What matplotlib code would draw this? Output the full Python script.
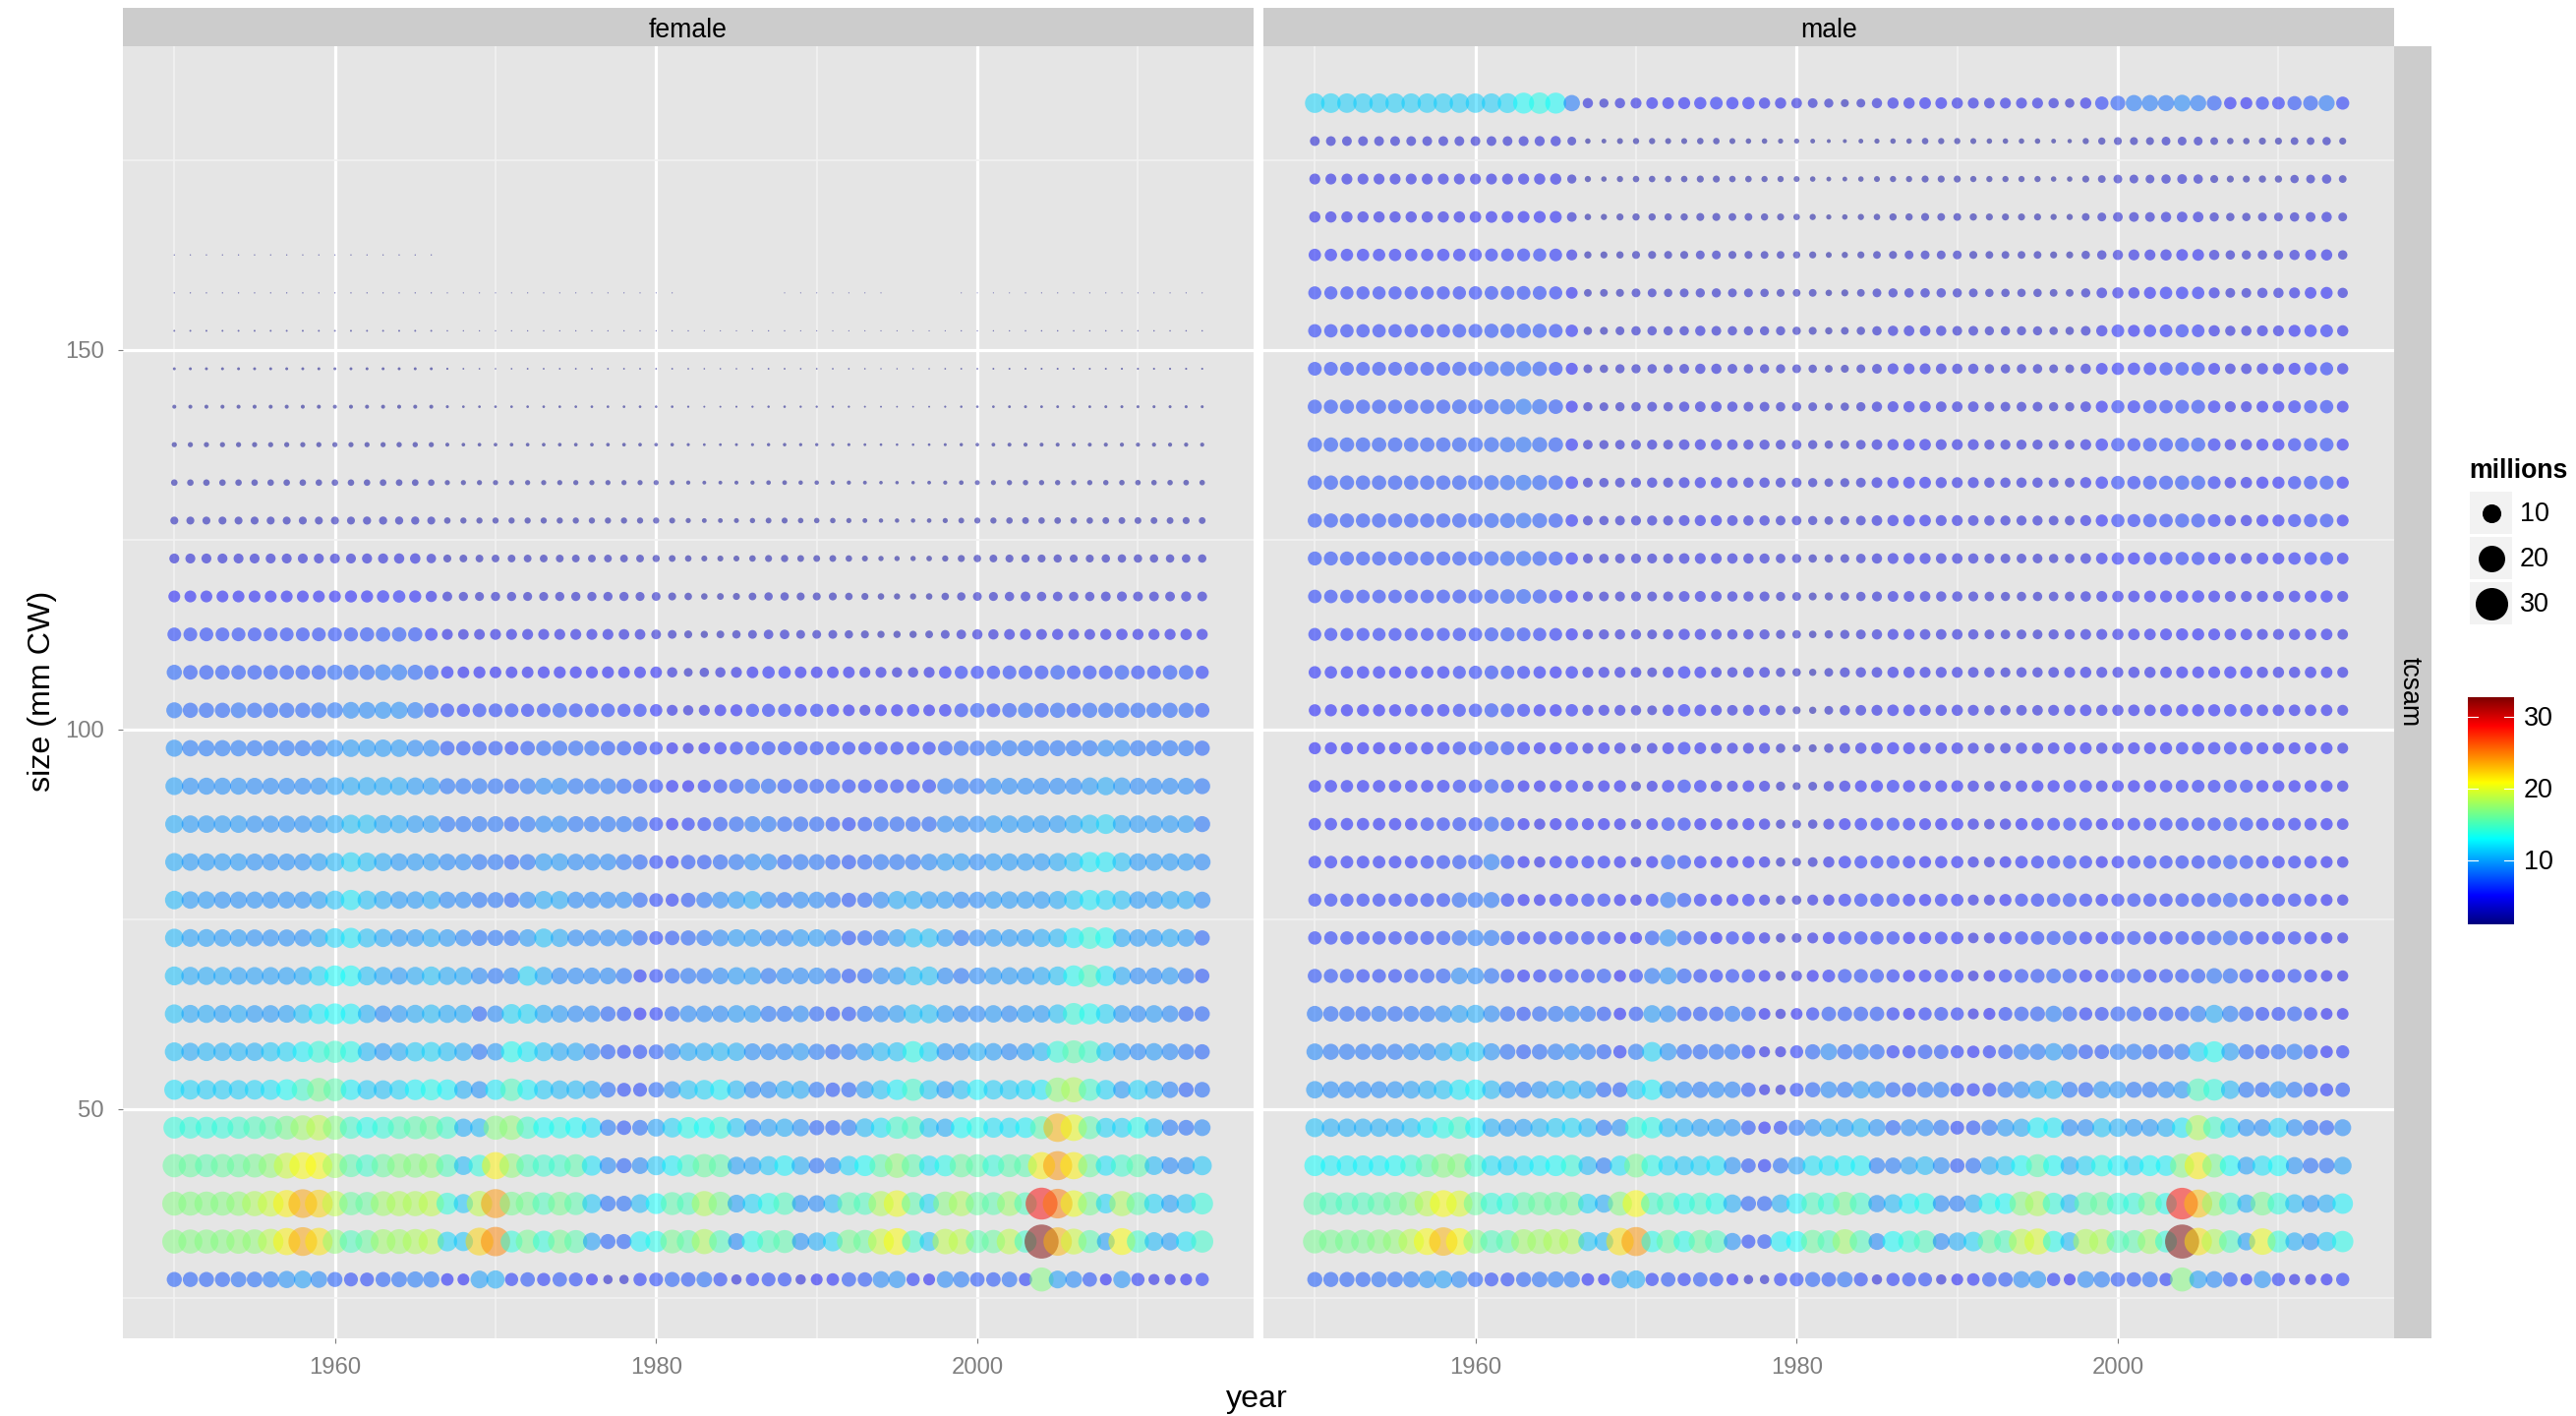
import numpy as np
import matplotlib
matplotlib.use("Agg")
import matplotlib.pyplot as plt
from matplotlib.colors import LinearSegmentedColormap, Normalize
from matplotlib.patches import Rectangle

nan = float("nan")
years = list(range(1950, 2015))
x_major = [1960, 1980, 2000]
x_minor = [1950, 1970, 1990, 2010]
y_major = [50, 100, 150]
y_minor = [25, 75, 125, 175]
legend_sizes = [10, 20, 30]
colorbar_ticks = [10, 20, 30]
jet_colors = ["#00007F", "#0000FF", "#007FFF", "#00FFFF", "#7FFF7F", "#FFFF00", "#FF7F00", "#FF0000", "#7F0000"]

female = {
27.5: [6.5,6.5,6.5,6.5,7,7,7.5,8.5,9,8,6.5,5.5,5.5,6.5,7,7.5,7.5,4.5,4,9,9.5,5,6,5,6,5.5,4,2.5,2.5,5,5.5,6.5,6,
       7,5.5,3,5,5.5,5.5,3,4,4.5,6,6,8,8.5,5,4,8,7.5,6,6,7,5,16.5,9,8,6,4,8.5,5,3.5,3.5,4,5],
32.5: [16.5,16.5,16.5,16.5,17,17,18.5,21,23.5,21.5,17,14.5,15.5,17.5,17.5,18,18.5,11,10.5,22,24.5,13.5,16,13.5,16,15,9,6.5,6.5,12,13,16,15,
       18,14.5,8,13,14.5,15,8.5,9.5,11,16,15.5,19,20.5,14,10.5,18.5,18.5,15,15.5,18.5,14,33,23,19,15,9,20.5,14,10,9,11.5,14],
37.5: [16.5,16.5,16.5,16.5,17,18,19,21,23.5,22,18.5,15.5,15.5,17.5,18,18,18.5,13.5,10.5,18.5,24,16,16,14.5,16,15,10.5,7,7,10,12.5,15,14.5,
       18,16,9,11,13,14.5,8.5,8,10,15,14.5,18,20,15,11,16.5,18,15.5,15,17.5,14.5,29,25,20,16,11,18,15,11,9,10.5,13.5],
42.5: [15.5,15.5,15,15.5,15.5,16,17,19,20.5,20.5,17.5,15,14,15.5,16.5,16.5,17,14.5,10,13.5,21,17,14.5,14,14,15,11.5,8,6.5,8,10.5,12,14,
       15.5,15,9,9,10.5,12,9.5,7,8,11,12.5,15,17,15,11.5,13,15.5,15,13.5,15,15,21,24,21,15.5,11.5,14,15,10,8,8.5,10.5],
47.5: [13.5,13.5,13.5,13.5,14,14.5,15,16,17.5,18.5,16.5,14,13,13.5,14.5,15,15.5,14,9.5,10,16.5,17,14,12.5,13,12.5,11.5,7.5,6,7,9,11,13,
       12.5,13.5,10.5,8,9,9.5,8.5,6.5,6.5,7.5,10,11.5,14,14.5,10.5,9.5,12.5,13,11.5,11.5,12,15,23,20,15,11,11,13,10,7.5,7,8],
52.5: [11.4,11,10.8,10.8,10.8,11,11.6,12.6,14,16,15,12,10.6,10.2,11,12.2,12.8,12.2,9.6,8.5,11.8,14.5,12,10.6,10,10,9.4,7,5.5,5.5,6.8,8.4,10.4,
       11,12,10,8.2,8.2,9.4,9.4,7.3,6,6.6,8.7,10.4,12,14,10.6,8.7,10.2,12,10.8,10.8,11,11.8,17,18,14,11,8.7,11,9.6,7.8,6.4,7],
57.5: [10.2,9.4,9.8,9.6,9.8,9.6,10.5,11,12,13.5,14,13,10,8.7,9.5,10.6,11,10.2,9.4,7.3,8.7,12.7,11.8,10.2,9.4,9.4,8,6.4,5.5,5.8,6.2,8,9.4,
       9.4,9.8,9.6,8.2,8,8,8.7,7.5,6.8,7.5,8.7,10,10.4,13,11,8.5,8.5,9.6,8.8,8,8.7,9.8,13.5,15,14,10.2,8.7,8,8.7,8,7.3,6.6],
62.5: [10.2,9.2,9.4,9,9.4,8.7,8.7,9,10.2,11.8,12.5,12,9.6,8,8.7,9.4,10,9.4,9.4,6.6,8,11,11,9.4,8.7,8,8,6.6,6,4.6,5.1,6.6,8,
       8,8,8.7,8.7,7.3,7.3,8,6.6,6,6,7.3,8,8.7,10.2,10.2,8.7,8,8,8.7,8,8.7,8.7,10.2,13.5,12.7,11,8.7,8,8.7,8,6.6,6.6],
67.5: [10.2,9.4,9.4,9.4,9,9,9,9,9.4,11,12.5,12.5,10.2,9.4,8.7,9.4,10.2,9.4,9.4,8,7.3,8,11,9.4,8,8,8,8,7.3,4.9,5.4,6.6,7.3,
       7.3,8,8.7,8.7,7.3,8,8,8,7.3,6,6.6,8,8.7,10.2,10.2,8,7.3,8,8.7,8.7,8.7,9.4,10.2,12.7,14.5,11.8,9.4,8,8,8.7,7.3,6],
72.5: [9.8,9,9,8.7,8.7,8.3,8.3,8.3,8.3,9.4,11,11.8,10.2,9.4,8.7,8.7,9.4,8.7,8,7.3,7.3,7.3,8.7,10.2,9.4,8,8,8,8,6.6,5.4,6,6.6,
       7.3,8,8.7,8.7,8,8,8.7,8.7,8,6,6.6,7.3,8.7,10.2,10.2,8.7,7.3,8,8.7,8.7,8.7,9.4,9.8,11.8,13.5,12.7,9.4,8.7,8.7,9.4,8.7,6.6],
77.5: [9.8,8.7,8.7,8.3,8.3,8.3,8.3,8.3,8.3,9,10.2,11.8,10.2,9.4,8.7,8.7,9.4,8,8,7.3,7.3,6.6,8,9.4,9.4,8,8,8,8,6.6,5.4,4.9,6,
       7.3,8,8.7,9.4,8,7.3,8,8,7.3,6,6.6,8,9.4,9.4,8.7,8.7,8,8,8.7,8.7,8.7,8.7,9.4,10.5,11.8,11.2,10.2,8.7,8.7,9.4,9.4,8],
82.5: [9.4,8.7,8.7,8.7,8.7,8.3,8.3,8.3,8.3,9,9.8,11,10.2,9.4,8.7,8.7,8.7,8,8,7.3,7.3,6.6,7.3,8.7,8.7,8,8,8,7.3,6.6,5.4,4.9,6,
       6,6.6,7.3,8,8,6.6,7.3,7.3,6.6,6,6.6,7.3,7.3,7.3,8,8.7,8.7,8,8.7,8.7,8.7,8.7,9.4,10.2,11.8,11.8,10.2,8.7,8.7,8.7,8.7,8],
87.5: [9.4,8.7,8.7,8.7,8.7,8.3,8.3,8.3,8.3,8.7,9.4,10.2,10.2,9.4,9.4,8.7,8.7,7.3,7.3,7.3,7.3,6.6,7.3,8,8,7.3,7.3,7.3,7.3,6.6,5.4,4.4,4.9,
       5.4,6,6.6,7.3,7.3,6.6,6.6,6.6,6,5.4,6,6.6,6.6,6.6,6.6,8,8,8,8.7,8.7,8.7,8.7,8.7,9.4,10.2,11,9.4,8.7,8.7,8.7,8.7,7.3],
92.5: [9,8.3,8.3,8.3,8.3,8,8,8,8,8.3,9,9.4,9.4,9.4,9.4,8.7,8.7,7.3,7.3,7.3,7,6.6,7.3,8,8,7.3,7.3,7.3,6.6,6,5.4,4.4,4.1,
       4.9,5.4,6,6.6,6.6,6,6,6,6,5.4,5.4,5.4,5.4,5.4,5.4,7.3,7.3,7.3,8,8,8,8,8,8,8.7,9.4,8.7,8,8,8,8,7.3],
97.5: [8.3,7.6,7.6,7.6,7.6,7.3,7.3,7.3,7.3,7.6,8.3,8.7,8.7,8.7,8.7,8,8,6,6,6,6,5.4,6,6.6,6.6,6.6,6.6,6,6,5.4,4.9,3.9,3.4,
       3.9,4.4,4.9,5.4,5.4,5.4,5.4,5.4,5.4,4.9,4.9,4.9,4.9,4.9,4.9,6,6.6,6.6,7.3,7.3,7.3,7.3,7.3,7.3,7.3,8,8,7.3,7.3,7.3,7.3,6.6],
102.5: [7.3,6.6,6.6,6.6,7,6.6,6.6,6.6,6.6,7,7.3,8,8,8.3,8.3,7.6,6.3,5.4,4.9,5.4,5.4,5.4,4.9,5.4,6,5.4,5.4,5.4,4.9,4.9,4.4,3.4,3,
        3.4,3.9,4.1,4.9,4.9,4.9,4.4,4.9,4.4,3.9,3.4,3.9,4.1,4.4,3.9,4.4,5.4,6,5.4,6,6.6,6,6.6,6,6.6,6.6,6.6,6.6,6.6,6.6,6.6,6],
107.5: [6.6,6,6,6,6,6,6,6,6,6,6.6,6.6,6.6,7.3,7.3,6.6,6,4.4,3.9,4.1,3.9,3.9,3.9,4.1,4.1,4.1,4.1,4.1,3.9,3.9,3.9,3,2.2,
        2.5,3,3.4,3.9,4.4,4.4,3.9,3.9,3.9,3.9,3.4,3.4,3,3,3.4,4.4,4.9,4.9,5.1,5.4,5.4,5.4,6,5.4,5.4,5.4,6,5.4,5.4,6,6,4.9],
112.5: [5.4,5.4,5.4,5.4,5.4,5.4,5.4,5.4,5.4,5.4,5.6,5.6,5.8,6,6,5.8,4.6,3.4,3.2,3.3,3.4,3.4,3.4,3.4,3.4,3.4,3.4,3.4,3.2,3.2,2.7,2.2,1.8,
        1.5,1.7,2,2.2,2.6,2.6,2.2,2.2,2.2,2,1.8,1.5,1.5,1.5,1.7,2.2,2.6,3,3,3.3,3.5,3.3,3.5,3.3,3.3,3.5,3.7,3.5,3.5,3.5,3.7,3.5],
117.5: [4,4,4,4,4,4,4,4,4,4,4,4.2,4.2,4.4,4.4,4.2,3.6,2.7,2.4,2.3,2.4,2.4,2.3,2.3,2.4,2.4,2.4,2.4,2.4,2.3,2.2,1.8,1.6,
        1.2,1.3,1.4,1.7,2,2,1.8,1.8,1.8,1.6,1.4,1.2,1.1,1.1,1.2,1.6,2,2.2,2.3,2.5,2.7,2.5,2.6,2.5,2.5,2.7,2.8,2.7,2.7,2.7,2.9,2.7],
122.5: [2.8,2.8,2.8,2.8,2.8,2.8,2.8,2.8,2.8,2.8,2.8,2.8,2.9,2.9,3,3.1,2.6,1.8,1.7,1.7,1.7,1.7,1.7,1.7,1.7,1.7,1.7,1.7,1.7,1.7,1.5,1.3,1.2,
        1,1,1,1.2,1.4,1.5,1.3,1.3,1.3,1.2,1,.8,.8,.8,.9,1.1,1.4,1.6,1.7,1.8,1.9,1.8,1.9,1.8,1.8,2,2,2,2,2,2.1,2],
127.5: [1.8,1.8,1.8,1.8,1.8,1.8,1.8,1.8,1.8,1.8,1.8,1.8,1.9,1.9,1.9,1.9,1.8,1.2,1.1,1.1,1.1,1.1,1.1,1.1,1.1,1.1,1.1,1.1,1.1,1.1,1.1,1,.75,
        .65,.65,.7,.8,.95,1,.85,.85,.85,.75,.65,.55,.55,.55,.6,.75,.95,1.05,1.1,1.2,1.3,1.2,1.25,1.2,1.2,1.3,1.3,1.3,1.3,1.3,1.4,1.3],
132.5: [1.2,1.2,1.2,1.2,1.2,1.2,1.2,1.2,1.2,1.2,1.2,1.2,1.2,1.25,1.25,1.25,1.2,.75,.75,.75,.75,.75,.75,.75,.75,.75,.75,.75,.75,.75,.75,.7,.5,
        .42,.42,.45,.5,.6,.62,.55,.55,.55,.5,.42,.36,.34,.34,.4,.48,.6,.68,.72,.78,.82,.78,.8,.78,.78,.82,.85,.85,.85,.85,.9,.85],
137.5: [.75,.75,.75,.75,.75,.75,.75,.75,.75,.75,.75,.75,.75,.75,.8,.8,.75,.45,.38,.38,.38,.38,.38,.38,.38,.38,.38,.38,.38,.38,.38,.36,.28,
        .22,.22,.24,.27,.32,.34,.3,.3,.3,.27,.22,.2,.18,.18,.2,.26,.33,.38,.4,.44,.47,.44,.45,.44,.44,.47,.48,.48,.48,.48,.5,.48],
142.5: [.45,.45,.45,.45,.45,.45,.45,.45,.45,.45,.45,.45,.45,.45,.45,.45,.45,.26,.2,.2,.2,.2,.2,.2,.2,.2,.2,.2,.2,.2,.2,.19,.14,
        .11,.11,.12,.14,.17,.18,.15,.15,.15,.14,.11,.1,.09,.09,.1,.13,.17,.19,.2,.22,.24,.22,.23,.22,.22,.24,.25,.25,.25,.25,.26,.25],
147.5: [.24,.24,.24,.24,.24,.24,.24,.24,.24,.24,.24,.24,.24,.24,.24,.24,.24,.13,.09,.08,.07,.08,.09,.09,.09,.09,.09,.09,.09,.09,.09,.09,.08,
        .07,.07,.07,.08,.09,.09,.08,.08,.08,.08,.07,.06,.06,.06,.06,.08,.09,.09,.1,.11,.11,.11,.11,.11,.11,.11,.12,.12,.12,.12,.12,.12],
152.5: [.1,.1,.1,.1,.1,.1,.1,.1,.1,.1,.1,.1,.1,.1,.1,.1,.1,.06,.05,.05,.05,.05,.05,.05,.05,.05,.05,.05,.05,.05,.05,.05,.05,
        .04,.04,.04,.04,.05,.05,.04,.04,.04,.04,.04,.04,.04,.04,.04,.04,.05,.05,.05,.05,.06,.06,.06,.06,.06,.06,.06,.06,.06,.06,.06,.06],
157.5: [.05,.05,.05,.05,.05,.05,.05,.05,.05,.05,.05,.05,.05,.05,.05,.05,.05,.04,.04,.04,.04,.04,.04,.04,.04,.04,.04,.04,.04,.04,.04,.04,nan,
        nan,nan,nan,nan,nan,.035,.035,.035,.035,.035,.035,.035,nan,nan,nan,nan,.035,.035,.035,.035,.04,.04,.04,.04,.04,.04,.04,.04,.04,.04,.04,.04],
162.5: [.05,.05,.05,.05,.05,.05,.05,.05,.05,.05,.05,.05,.05,.05,.05,.05,.05,nan,nan,nan,nan,nan,nan,nan,nan,nan,nan,nan,nan,nan,nan,nan,nan,
        nan,nan,nan,nan,nan,nan,nan,nan,nan,nan,nan,nan,nan,nan,nan,nan,nan,nan,nan,nan,nan,nan,nan,nan,nan,nan,nan,nan,nan,nan,nan,nan],
}

male = {
27.5: [6.5,6.5,6.5,6.5,7,7,7.5,8.5,9,8,6.5,5.5,5.5,6.5,7,7.5,7.5,4.5,4,9,9.5,5,6,5,6,5.5,4,2.5,2.5,5,5.5,6.5,6,
       7,5.5,3,5,5.5,5.5,3,4,4.5,6,6,8,8.5,5,4,8,7.5,6,6,7,5,16.5,9,8,6,4,8.5,5,3.5,3.5,4,5],
32.5: [16,16,16,16,16.5,17,18.5,20.5,23,20.5,16.5,14.5,15,17.5,17.5,18,18,10.5,10,21.5,24,13,15.5,13,15.5,14.5,8.5,5.5,6,12,12.5,15.5,14.5,
       17.5,14.5,8,12.5,13.5,14.5,8,9.5,11,15.5,14.5,18.5,19.5,13,10,18,18,14.5,15,17.5,13.5,33,21.5,18,14.5,9,20,13.5,9.5,8.5,10.5,13],
37.5: [15,14.5,14.5,14.5,15,15.5,16.5,18.5,20.5,19.5,15.5,13.5,13.5,15,15.5,15.5,16,11,9.5,16.5,20.5,14,14.5,13,14,13,9.5,6.5,6.5,9.5,12,14.5,13.5,
       16,14,8.5,10,12,13,8,7.5,9.5,13,12.5,16.5,18,13.5,10,15,15.5,13.5,13.5,16,13,28.5,22.5,17,14,9.5,16,13.5,10,8.5,9.5,12],
42.5: [12.5,12,12,12,12,12.5,13.5,15,16.5,16.5,14,11.5,11,11.5,12,12.5,13.5,10,7.5,11.5,16,13,11,10.5,11,11.5,8.5,6,5,7,9,11.5,11.5,
       12,12,7.5,7.5,9,10,8,6,7,9.5,10.5,12.5,15,12.5,9.5,11,13,12,11,12.5,12,16.5,21,16,12.5,9,11.5,12.5,8.5,7,7,9],
47.5: [10.2,9.6,9.6,9.6,9.6,9.6,10.4,11.6,13,14,12,9.6,9,9,9.8,10.6,11.2,10,7.3,8.4,13.5,13,10,9.6,9,9,8.4,6,4.4,5.4,7.3,8.4,9.4,
       9,10,8.4,6.6,8.2,8.2,7.3,5.4,6,7.3,8.7,9.4,12,11.8,8.2,8.2,10.4,9.6,8.7,8.7,9.6,11.8,18,14,11.2,8.4,8.2,11,8.2,7,6.4,8.2],
52.5: [8.7,8.2,8.2,8.2,8.2,8.4,9,9.6,10.4,11.8,12,10,8.2,7.6,8.4,9.4,9.8,9,6.6,6.4,10.6,12,8.8,8,7.6,8,7.8,6,3.4,3,5.4,6.6,8,
       7.3,8.7,8.2,6.6,6,7.3,7.3,5.4,4.9,5.4,7.3,8,9.4,9.8,7.3,6.6,8.4,8.4,7.3,7.3,8,8.7,14.5,13.4,9.8,7.3,6.6,8.4,7.3,6,4.9,6],
57.5: [8,7.4,7.4,7.4,7.6,7.4,8,8.2,9.2,10.4,10.6,8.4,7,6.2,6.9,7.6,8,7.4,6.4,5,7.4,11,8.4,6.8,6.6,7,7.2,5.4,3.4,3.4,4.9,6.6,8,
       6.6,7.4,6.6,4.9,4.9,6,6,4.9,4.4,4.9,6,7.4,7.4,8.7,7.4,6,6,7.4,7.4,6.6,6.6,7.4,11,12.7,9,6.6,6,6.6,7.4,6,4.4,4.9],
62.5: [7.3,6.8,6.8,6.6,7.2,6.8,7.2,7.4,8,9,9.4,8,6.6,5.8,6.6,7.2,7.6,7.2,6,4.4,6,8.7,8,6,6,6,7.3,6,3.9,3,3.9,4.9,6,
       6,6,6,4.9,4.1,4.9,5.4,4.9,3.4,4.1,5.4,6,6.3,7.6,6.3,4.9,5.4,6.3,6.3,5.4,6,6,7.6,9.4,7.6,6.3,5.4,5.4,6.3,5.1,3.9,3.9],
67.5: [5.7,5.7,5.7,5.2,5.4,5.4,5.7,6,6.3,8,8,7,5.4,4.6,4.9,5.4,5.4,5.4,6,4.1,5.4,7.3,8.3,6.3,5.4,4.9,5.4,5.1,3.9,2.7,3.2,4.1,4.6,
       5.5,5.5,5.5,5,4.2,4.5,5,4.5,3.2,3.8,5,5.5,5.6,6.2,5.8,4.6,4.8,5.6,5.8,5,5.5,5.6,6,7,6.6,5.6,5,5,5.5,4.8,3.8,3.5],
72.5: [5.1,5.1,5.1,5.1,5.1,5.1,5.4,5.4,5.7,6.6,7.6,7.3,5.7,4.9,4.9,5.1,5.1,5.1,5.1,4.1,4.1,6,8.3,6,5.1,4.1,4.9,4.6,3.6,2.5,2.7,3.4,4.1,
       5,5,5,5,4.2,4.2,4.6,4.4,3.2,3.4,4.4,5,5.2,5.6,5.6,4.6,4.4,5,5.4,4.8,5,5.2,5.4,6,6.2,5.4,4.8,4.8,5,4.6,3.8,3.4],
77.5: [4.9,4.9,4.9,4.9,4.9,4.9,5.1,5.4,5.4,6.6,7,7.3,5.1,4.1,3.9,4.6,4.6,4.9,4.9,4.1,3.6,4.6,7.3,5.7,4.6,3.9,4.1,4.4,3.4,2.5,2.5,3.4,3.6,
       4.6,5,5,5,4.4,4.2,4.6,4.4,3.4,3.4,4.2,4.8,5,5.2,5.4,4.8,4.4,4.8,5.2,5,5,5.2,5.4,5.6,6,5.4,4.8,4.8,5,4.6,4,3.6],
82.5: [4.6,4.6,4.6,4.6,4.6,4.6,4.6,5.1,5.4,5.7,6,7.6,5.4,4.1,3.6,4.4,4.6,4.6,4.6,4.1,3.2,4.1,6,5.4,4.4,3.9,3.9,4.1,3.6,2.5,2.2,2.7,3.6,
       4.5,4.7,4.7,4.9,4.5,4.1,4.3,4.3,3.5,3.3,3.9,4.5,4.7,4.9,5.1,4.7,4.1,4.5,4.9,4.9,4.9,5.1,5.1,5.3,5.7,5.3,4.7,4.5,4.7,4.5,4.1,3.7],
87.5: [4.4,4.4,4.4,4.4,4.4,4.4,4.4,5.1,5.1,5.4,5.4,6.3,5.4,4.1,3.6,4.1,4.6,4.1,4.1,3.9,3,3.9,5.1,4.9,4.1,3.9,3.6,4.1,3.6,2.5,2.2,2.5,3.4,
       4,4.4,4.6,4.8,4.4,4,4.2,4.2,3.6,3.2,3.6,4.2,4.4,4.6,4.8,4.6,4,4.2,4.6,4.6,4.8,5,5,5,5.4,5.2,4.6,4.4,4.6,4.4,4.2,3.8],
92.5: [4.4,4.4,4.4,4.4,4.4,4.4,4.4,4.4,4.6,4.9,5.1,5.7,4.9,3.9,3.9,4.1,4.4,3.4,3.9,4.1,2.7,3.4,4.4,5.1,4.4,3.6,3.4,3.9,3.4,2.4,1.8,2.2,3,
       3.6,4,4.2,4.6,4.2,3.8,4,4,3.6,3.1,3.4,3.8,4,4.2,4.4,4.4,3.8,4,4.2,4.2,4.4,4.6,4.6,4.6,4.8,4.8,4.2,4,4.2,4.2,4,3.6],
97.5: [4.2,4.2,4.2,4.2,4.2,4.2,4.4,4.4,4.6,5,5.3,5.6,5.3,4.6,4,4.2,4.4,3.4,3.9,3.6,2.7,3.2,3.9,4.6,3.9,3.4,3.4,3.4,3.4,2.5,1.8,1.8,2.5,
       3.2,3.6,3.8,4.2,4,3.6,3.8,3.8,3.4,3,3.2,3.6,3.6,3.8,4,4,3.6,3.8,4,4,4.2,4.4,4.4,4.4,4.6,4.6,4,3.8,4,4,4,3.4],
102.5: [4.2,4.2,4.2,4.2,4.2,4.2,4.4,4.4,4.4,4.8,5.1,5.6,5.3,4.7,4.2,4.2,4.4,3.4,3.4,3.4,3,2.7,3.6,4.4,3.9,3.4,3.2,3.4,3.4,2.7,1.8,1.5,2.2,
        3,3.2,3.4,3.8,3.8,3.6,3.6,3.6,3.4,3,3,3.2,3.2,3.4,3.6,3.8,3.6,3.6,3.8,3.8,4,4.2,4.2,4.2,4.4,4.4,3.8,3.8,3.8,3.8,3.8,3.4],
107.5: [4.4,4.4,4.4,4.4,4.4,4.2,4.4,4.4,4.4,4.8,5.1,5.4,5.2,4.7,4.4,4.2,4.4,3.4,3.4,3.4,3.2,2.7,3.4,4.4,3.9,3.2,3,3.2,3.2,2.5,2,1.5,2.2,
        2.8,3,3.2,3.6,3.6,3.4,3.4,3.4,3.2,3,2.8,3,3,3.2,3.4,3.6,3.4,3.4,3.6,3.6,3.8,4,4,4,4.2,4.2,3.6,3.6,3.6,3.8,3.8,3.4],
112.5: [4.8,4.8,4.8,4.8,4.8,4.8,4.8,4.8,4.9,5,5.2,5.5,5.6,5.4,5,4.7,4.2,3,2.9,3,2.9,2.7,3,3.6,3.5,3.2,3,3,2.9,2.4,2.1,1.6,2,
        2.4,2.7,3,3.4,3.4,3.2,3.2,3.2,3,2.7,2.6,2.7,2.7,2.9,3,3.3,3.4,3.6,3.8,3.8,4,4.2,4.2,4,3.8,3.8,3.4,3.4,3.6,3.7,3.8,3.2],
117.5: [5.2,5.2,5.2,5.2,5.2,5.2,5.2,5.2,5.3,5.4,5.6,5.8,6,6.2,5.6,5,4.2,2.8,2.7,2.8,2.8,2.7,2.8,3.3,3.4,3.2,3,2.9,2.8,2.4,2.2,1.8,1.9,
        2.1,2.5,2.8,3.3,3.3,3.2,3,3,2.8,2.6,2.4,2.5,2.5,2.6,2.7,3.1,3.4,3.7,3.8,3.9,4.1,4.3,4.3,3.9,3.4,3.4,3.5,3.4,3.8,4,4.2,3.4],
122.5: [5.6,5.6,5.6,5.6,5.6,5.6,5.6,5.6,5.6,5.7,5.9,6,6.2,6.5,6,5.6,4.3,2.7,2.6,2.7,2.8,2.8,2.8,3.2,3.4,3.3,3.1,3,2.9,2.6,2.4,2,2,
        2.2,2.6,3,3.4,3.5,3.5,3.2,3.2,3,2.8,2.7,2.7,2.7,2.5,2.6,3.2,3.8,4.4,4.2,4.6,4.7,5,4.9,4.2,3.5,3.5,3.9,3.9,4.4,4.6,4.9,3.8],
127.5: [5.8,5.8,5.8,5.8,5.8,5.8,5.8,5.8,5.8,5.9,6,6.2,6.4,6.8,6.3,5.9,4.4,2.7,2.5,2.7,2.8,2.9,2.8,3.3,3.5,3.5,3.2,3,3,2.7,2.6,2.4,2.1,
        2.3,2.7,3.2,3.6,3.8,3.8,3.4,3.4,3.2,3,2.9,2.9,2.9,2.7,2.7,3.4,4.2,5,4.8,5.2,5.2,5.6,5.5,4.6,3.6,3.6,4.1,4.1,4.8,5.1,5.3,4],
132.5: [5.9,5.9,5.9,5.9,5.9,5.9,5.9,5.9,5.9,6,6.1,6.3,6.5,6.9,6.4,6,4.5,2.7,2.5,2.7,2.8,3,2.8,3.3,3.5,3.5,3.2,3,3,2.8,2.7,2.4,2.1,
        2.3,2.7,3.3,3.7,3.9,3.9,3.5,3.4,3.4,3,3,3,3,2.7,2.7,3.5,4.4,5.2,5,5.4,5.5,5.8,5.7,4.7,3.7,3.7,4.2,4.2,4.9,5.2,5.5,4.2],
137.5: [6,6,6,6,6,6,6,6,6,6.1,6.2,6.4,6.6,7,6.5,6.1,4.4,2.6,2.4,2.6,2.7,2.9,2.7,3.2,3.4,3.4,3.2,2.9,2.9,2.7,2.6,2.4,2,
        2.2,2.6,3.2,3.6,3.8,3.8,3.4,3.4,3.4,2.9,2.9,2.9,2.9,2.6,2.6,3.4,4.4,5.2,4.9,5.4,5.4,5.7,5.7,4.6,3.6,3.6,4.1,4.1,4.9,5.1,5.4,4.1],
142.5: [5.7,5.7,5.7,5.7,5.7,5.7,5.7,5.7,5.7,6,6,6.3,6.6,7.3,6.6,6,4.1,2.4,2.2,2.4,2.5,2.7,2.5,3,3.2,3.2,3,2.7,2.7,2.5,2.4,2.2,1.8,
        2,2.4,3,3.4,3.6,3.6,3.2,3.2,3.2,2.7,2.7,2.7,2.7,2.4,2.4,3.2,4.1,4.9,4.6,5.1,5.1,5.4,5.4,4.4,3.4,3.4,3.9,3.9,4.6,4.9,5.1,3.9],
147.5: [5.4,5.4,5.4,5.4,5.4,5.4,5.4,5.4,5.4,5.6,5.8,6.2,6.2,6.6,6,5.4,4.1,2.2,2,2.4,2.4,2.5,2.4,2.7,3,3,2.7,2.5,2.4,2.4,2.2,2,1.7,
        1.8,2.2,2.7,3.4,3.4,3.4,3.2,3,3,2.5,2.5,2.5,2.5,2.2,2.2,3,3.9,4.4,4.4,4.6,4.9,5.1,5.1,3.9,3.2,3.2,3.6,3.6,4.1,4.6,4.9,3.6],
152.5: [5.1,5.1,5.1,5.1,5.1,5.1,5.1,5.1,5.1,5.3,5.5,5.8,5.8,6,5.7,5.4,4.4,2,1.8,2.2,2.5,2.5,2.4,2.5,3,2.7,2.5,2.4,2.4,2.4,2,1.8,1.5,
        1.7,2,2.5,3,3.2,3.2,3,2.7,2.7,2.4,2.4,2.4,2.4,2,2,2.7,3.6,4.6,4.1,4.4,4.6,4.9,4.6,3.6,3,3,3.4,3.4,4.1,4.4,4.6,3.6],
157.5: [4.9,4.9,4.9,4.9,4.9,4.9,4.9,4.9,4.9,5,5.1,5.3,5.3,5.4,5.4,4.9,3.9,1.7,1.7,1.8,2.2,2.2,2,2.2,2.4,2.4,2.2,2.2,2,1.8,1.7,1.7,1.2,
        1.4,1.7,2.2,2.4,2.5,2.5,2.5,2.4,2.2,2,2,2,2,1.7,1.7,2.4,3.2,3.6,3.6,4.1,4.4,4.4,4.4,3.4,2.7,2.7,3,3,3.4,3.9,4.1,3],
162.5: [4.4,4.4,4.4,4.4,4.4,4.4,4.4,4.4,4.4,4.5,4.6,4.7,4.7,4.8,4.9,4.6,3.4,1.5,1.4,1.5,1.8,1.8,1.8,1.8,2.2,2.2,1.8,1.8,1.7,1.7,1.5,1.4,1,
        1.1,1.4,1.7,1.8,2.2,2.2,2.2,2.2,1.8,1.7,1.7,1.7,1.7,1.4,1.4,2,2.5,3,3.4,3.4,3.6,3.9,3.9,3,2.5,2.4,2.5,2.5,3,3.4,3.6,2.5],
167.5: [3.6,3.6,3.6,3.6,3.6,3.6,3.6,3.6,3.6,3.7,3.8,3.9,3.9,4,4.1,4.1,2.7,1.2,1.1,1.4,1.5,1.5,1.5,1.5,1.8,1.8,1.7,1.7,1.5,1.4,1.2,1.1,.75,
        .85,1.1,1.2,1.5,1.5,1.8,1.7,1.7,1.5,1.4,1.4,1.4,1.4,1.1,1.1,1.7,2.2,2.7,2.7,2.7,3,3.2,3.2,2.4,2,2,2.2,2.2,2.5,2.7,3,2.2],
172.5: [3.4,3.4,3.4,3.4,3.4,3.4,3.4,3.4,3.4,3.4,3.4,3.4,3.4,3.5,3.6,3.6,2.4,1.1,.85,1.1,1.2,1.2,1.2,1.2,1.4,1.4,1.2,1.2,1.1,1.1,1,.85,.65,
        .65,.85,1,1.1,1.1,1.4,1.4,1.4,1.1,1.1,1.1,1.1,1.1,.85,.85,1.4,1.7,2.2,2.2,2.2,2.5,2.7,2.5,1.8,1.4,1.4,1.5,1.5,2,2.2,2.5,1.7],
177.5: [2.7,2.7,2.7,2.7,2.7,2.7,2.7,2.7,2.7,2.7,2.7,2.7,2.7,2.8,2.9,3,2.2,.85,.65,1,1.1,1.1,1,1,1.2,1.2,1,.85,.85,.75,.75,.65,.45,
        .45,.65,.75,.85,.85,1.2,1.1,1.1,1,.85,.85,.85,.85,.65,.55,1.1,1.5,1.8,1.8,1.8,2.2,2.2,2.2,1.7,1.2,1.2,1.4,1.4,1.7,1.7,2,1.4],
182.5: [11,11,10.8,10.8,10.8,10.8,10.8,10.8,10.8,10.8,10.8,10.8,11.2,12.5,13,12.5,7.6,3,2.4,3,3.4,3.9,3.9,4.1,4.3,4.6,4.3,4.3,3.6,3.6,3.2,2.7,2.4,
        1.8,2.2,3,3.6,3.6,3.9,3.9,3.6,3.4,3.2,3.4,3.4,3.4,3,2.5,3.6,5.1,6.3,7.6,7.6,7.4,8,7.4,6.3,4.4,4.1,4.9,4.6,5.7,6.3,7.3,4.9],
}

for name, tbl in (("female", female), ("male", male)):
    for k, v in tbl.items():
        if len(v) != 65:
            raise SystemExit(f"{name} {k}: {len(v)}")

W, H = 2620, 1440
DPI = 200
cmap = LinearSegmentedColormap.from_list("rjet", jet_colors, N=256)
norm = Normalize(vmin=0, vmax=33)
PX_PER_ROOT = 6.03
ALPHA = 0.5
FONT = "Liberation Sans"

plt.rcParams["font.family"] = FONT
fig = plt.figure(figsize=(W / DPI, H / DPI), dpi=DPI, facecolor="white")


def box(x0, y0, x1, y1, **kw):
    return fig.add_axes([x0 / W, 1 - y1 / H, (x1 - x0) / W, (y1 - y0) / H], **kw)


def area(values):
    return (PX_PER_ROOT * np.sqrt(np.asarray(values, float)) * 72 / DPI) ** 2


def panel(x0, x1, table, title, left):
    ax = box(x0, 47, x1, 1361)
    ax.set_facecolor("#E5E5E5")
    ax.set_xlim(1946.8, 2017.2)
    ax.set_ylim(19.75, 190.0)
    for s in ax.spines.values():
        s.set_visible(False)
    ax.set_xticks(x_major)
    ax.set_xticks(x_minor, minor=True)
    ax.set_yticks(y_major)
    ax.set_yticks(y_minor, minor=True)
    ax.grid(True, which="major", color="white", lw=1.15, zorder=1)
    ax.grid(True, which="minor", color="#F2F2F2", lw=0.6, zorder=1)
    ax.set_axisbelow(True)
    ax.tick_params(which="minor", length=0)
    ax.tick_params(which="major", length=1.8, width=0.4, color="#7F7F7F", labelcolor="#7F7F7F",
                   labelsize=8.6, pad=5)
    if not left:
        ax.tick_params(axis="y", which="major", left=False, labelleft=False)
    for size, vals in table.items():
        vals = np.asarray(vals, float)
        keep = ~np.isnan(vals)
        ax.scatter(np.asarray(years)[keep], np.full(keep.sum(), size), s=area(vals[keep]),
                   c=vals[keep], cmap=cmap, norm=norm, alpha=ALPHA, linewidths=0, zorder=3)
    st = box(x0, 8, x1, 47)
    st.set_facecolor("#CCCCCC")
    st.set_xticks([])
    st.set_yticks([])
    for s in st.spines.values():
        s.set_visible(False)
    st.text(0.5, 0.42, title, ha="center", va="center", fontsize=9.6, transform=st.transAxes)
    return ax


panel(125, 1275, female, "female", True)
panel(1285, 2435, male, "male", False)

rs = box(2435, 47, 2473, 1361)
rs.set_facecolor("#CCCCCC")
rs.set_xticks([])
rs.set_yticks([])
for s in rs.spines.values():
    s.set_visible(False)
rs.text(0.42, 0.5, "tcsam", rotation=-90, ha="center", va="center", fontsize=9.6, transform=rs.transAxes)

over = fig.add_axes([0, 0, 1, 1], facecolor="none")
over.set_xlim(0, W)
over.set_ylim(H, 0)
over.axis("off")
over.text(1278, 1423, "year", ha="center", va="center", fontsize=11.6)
over.text(43, 703, "size (mm CW)", ha="center", va="center", rotation=90, fontsize=11.6)
over.text(2511, 479, "millions", ha="left", va="center", fontsize=9.6, fontweight="bold")
for val, top in zip(legend_sizes, [500, 546, 592]):
    over.add_patch(Rectangle((2512, top), 43, 43, facecolor="#F2F2F2", edgecolor="none"))
    over.scatter([2533.5], [top + 21.5], s=area([val]), c="black", linewidths=0)
    over.text(2563, top + 23.5, str(val), ha="left", va="center", fontsize=9.7)

cb = box(2510, 709, 2557, 940)
grad = np.linspace(1, 0, 256).reshape(-1, 1)
cb.imshow(grad, cmap=cmap, aspect="auto", extent=[0, 1, 1.1, 32.75], vmin=0, vmax=1)
cb.set_xlim(0, 1)
cb.set_ylim(1.1, 32.75)
cb.axis("off")
for t in colorbar_ticks:
    cb.plot([0, 0.21], [t, t], color="white", lw=0.4)
    cb.plot([0.79, 1], [t, t], color="white", lw=0.4)
    y_px = 940 - (t - 1.1) / (32.75 - 1.1) * 231
    over.text(2597, y_px + 2, str(t), ha="right", va="center", fontsize=9.7)

fig.savefig("out.png", dpi=DPI, facecolor="white")
